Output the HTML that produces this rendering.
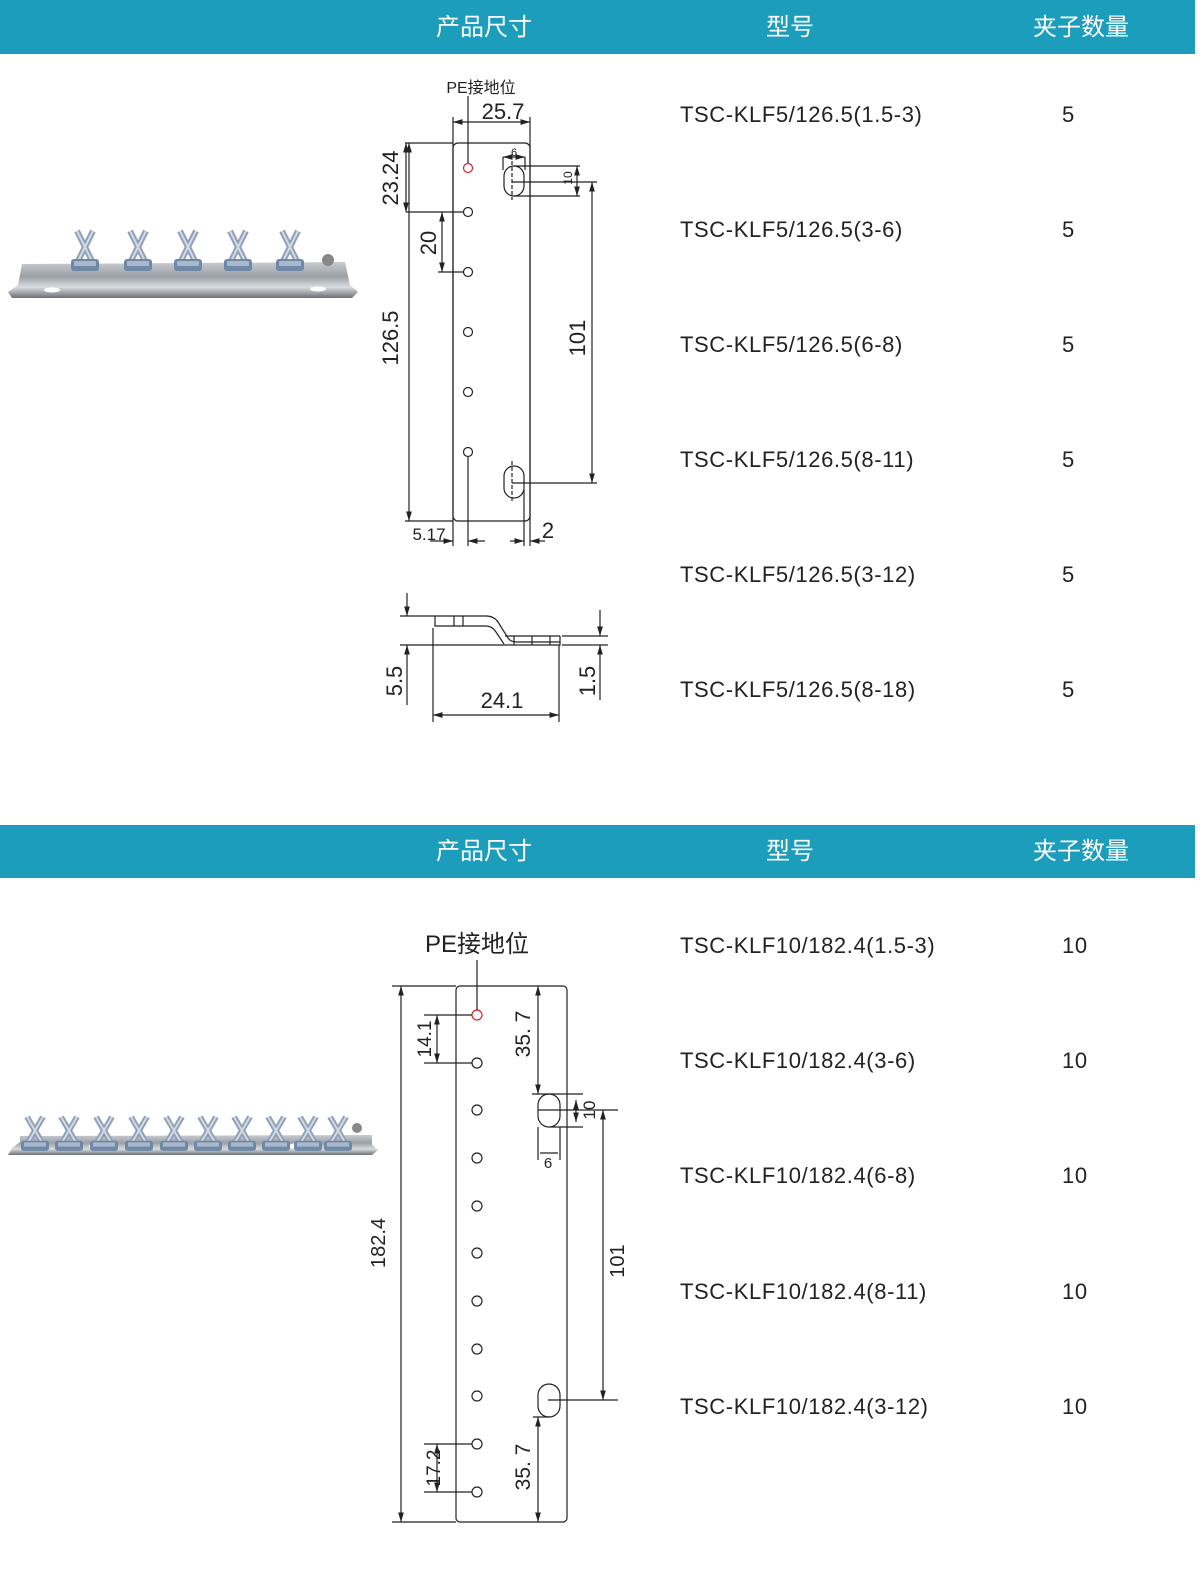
<!DOCTYPE html>
<html><head><meta charset="utf-8"><style>
body{margin:0;background:#fff;width:1200px;height:1572px;overflow:hidden;font-family:"Liberation Sans","Noto Sans CJK SC",sans-serif}
svg text{font-family:"Liberation Sans","Noto Sans CJK SC",sans-serif}
</style></head><body>
<svg width="1200" height="1572" viewBox="0 0 1200 1572" xmlns="http://www.w3.org/2000/svg">
<defs>
<marker id="a" viewBox="0 0 10 10" refX="10" refY="5" markerWidth="8" markerHeight="8" orient="auto-start-reverse"><path d="M0,2 L10,5 L0,8 z" fill="#222"/></marker>
<linearGradient id="m" x1="0" y1="0" x2="0" y2="1"><stop offset="0" stop-color="#c8ccd0"/><stop offset=".4" stop-color="#9aa0a6"/><stop offset=".7" stop-color="#d9dcdf"/><stop offset="1" stop-color="#6c7075"/></linearGradient>
<g id="clip"><path d="M-8,-34 L8,-2 M8,-34 L-8,-2" stroke="#8fa0b8" stroke-width="6" fill="none"/><path d="M-8,-34 L8,-2 M8,-34 L-8,-2" stroke="#d4dae3" stroke-width="2" fill="none"/><rect x="-14" y="-6" width="28" height="12" rx="3" fill="#6f88a6"/><rect x="-11" y="-4" width="22" height="5" fill="#a9b9cc"/></g>
</defs>
<rect x="0" y="0" width="1195" height="54" fill="#1c9dbb"/>
<rect x="0" y="825" width="1195" height="53" fill="#1c9dbb"/>
<g fill="#fff" font-size="24" text-anchor="middle">
<text x="484" y="35">产品尺寸</text><text x="790" y="35">型号</text><text x="1081" y="35">夹子数量</text>
<text x="484" y="859">产品尺寸</text><text x="790" y="859">型号</text><text x="1081" y="859">夹子数量</text>
</g>
<g fill="#222" font-size="22" letter-spacing="0.6">
<text x="680" y="122">TSC-KLF5/126.5(1.5-3)</text>
<text x="680" y="237">TSC-KLF5/126.5(3-6)</text>
<text x="680" y="352">TSC-KLF5/126.5(6-8)</text>
<text x="680" y="467">TSC-KLF5/126.5(8-11)</text>
<text x="680" y="582">TSC-KLF5/126.5(3-12)</text>
<text x="680" y="697">TSC-KLF5/126.5(8-18)</text>
<text x="1062" y="122">5</text><text x="1062" y="237">5</text><text x="1062" y="352">5</text><text x="1062" y="467">5</text><text x="1062" y="582">5</text><text x="1062" y="697">5</text>
<text x="680" y="953">TSC-KLF10/182.4(1.5-3)</text>
<text x="680" y="1068">TSC-KLF10/182.4(3-6)</text>
<text x="680" y="1183">TSC-KLF10/182.4(6-8)</text>
<text x="680" y="1299">TSC-KLF10/182.4(8-11)</text>
<text x="680" y="1414">TSC-KLF10/182.4(3-12)</text>
<text x="1062" y="953">10</text><text x="1062" y="1068">10</text><text x="1062" y="1183">10</text><text x="1062" y="1299">10</text><text x="1062" y="1414">10</text>
</g>
<path d="M22,264 L345,262 L350,285 L358,292 L352,298 L12,298 L8,292 L18,285 Z" fill="url(#m)"/>
<ellipse cx="52" cy="290" rx="8" ry="2.5" fill="#fff"/><ellipse cx="318" cy="289" rx="8" ry="2.5" fill="#fff"/>
<use href="#clip" x="85" y="265"/><use href="#clip" x="138" y="265"/><use href="#clip" x="188" y="265"/><use href="#clip" x="238" y="265"/><use href="#clip" x="290" y="265"/>
<circle cx="328" cy="260" r="6" fill="#888"/>
<path d="M20,1136 L372,1135 L372,1145 L378,1150 L372,1155 L8,1155 L12,1148 L20,1142 Z" fill="url(#m)"/>
<ellipse cx="98" cy="1146" rx="9" ry="3" fill="#fff"/><ellipse cx="298" cy="1146" rx="9" ry="3" fill="#fff"/>
<g transform="scale(1 0.85)">
<use href="#clip" x="35" y="1348"/><use href="#clip" x="69" y="1348"/><use href="#clip" x="104" y="1348"/><use href="#clip" x="139" y="1348"/><use href="#clip" x="174" y="1348"/><use href="#clip" x="208" y="1348"/><use href="#clip" x="242" y="1348"/><use href="#clip" x="276" y="1348"/><use href="#clip" x="308" y="1348"/><use href="#clip" x="338" y="1348"/>
</g>
<circle cx="357" cy="1128" r="5" fill="#888"/>

<g stroke="#222" stroke-width="1.2" fill="none">
<rect x="453" y="143" width="77" height="378" rx="5"/>
<circle cx="468" cy="168" r="4.5" stroke="#e02020"/>
<circle cx="468" cy="212" r="4.5"/><circle cx="468" cy="272" r="4.5"/><circle cx="468" cy="332" r="4.5"/><circle cx="468" cy="392" r="4.5"/><circle cx="468" cy="452" r="4.5"/>
<rect x="504" y="166" width="20" height="30" rx="10"/>
<rect x="504" y="466" width="20" height="32" rx="10"/>
<line x1="468" y1="96" x2="468" y2="163"/>
<line x1="468" y1="457" x2="468" y2="546"/>
<line x1="453" y1="117" x2="453" y2="546"/><line x1="530" y1="117" x2="530" y2="546"/>
<line x1="453" y1="122" x2="530" y2="122" marker-start="url(#a)" marker-end="url(#a)"/>
<line x1="405" y1="143" x2="453" y2="143"/><line x1="406" y1="212" x2="464" y2="212"/>
<line x1="409" y1="143" x2="409" y2="521" marker-start="url(#a)" marker-end="url(#a)"/>
<line x1="406" y1="143" x2="406" y2="212" marker-start="url(#a)" marker-end="url(#a)"/>
<line x1="438" y1="272" x2="464" y2="272"/>
<line x1="442" y1="212" x2="442" y2="272" marker-start="url(#a)" marker-end="url(#a)"/>
<line x1="405" y1="521" x2="453" y2="521"/>
<line x1="512" y1="161" x2="512" y2="200" stroke-dasharray="4 2"/><line x1="512" y1="461" x2="512" y2="503" stroke-dasharray="4 2"/>
<line x1="503" y1="157" x2="503" y2="170"/><line x1="525" y1="157" x2="525" y2="170"/>
<line x1="503" y1="157" x2="525" y2="157" marker-start="url(#a)" marker-end="url(#a)"/>
<line x1="514" y1="166" x2="580" y2="166"/><line x1="514" y1="196" x2="580" y2="196"/>
<line x1="577" y1="166" x2="577" y2="196" marker-start="url(#a)" marker-end="url(#a)"/>
<line x1="512" y1="182" x2="597" y2="182"/><line x1="512" y1="483" x2="597" y2="483"/>
<line x1="592" y1="182" x2="592" y2="483" marker-start="url(#a)" marker-end="url(#a)"/>
<line x1="430" y1="541" x2="453" y2="541" marker-end="url(#a)"/><line x1="485" y1="541" x2="468" y2="541" marker-end="url(#a)"/>
<line x1="510" y1="541" x2="524" y2="541" marker-end="url(#a)"/><line x1="545" y1="541" x2="530" y2="541" marker-end="url(#a)"/>
<line x1="524" y1="490" x2="524" y2="546"/>
</g>
<g fill="#222">
<text x="481" y="93" font-size="16" text-anchor="middle">PE接地位</text>
<text x="503" y="119" font-size="22" text-anchor="middle">25.7</text>
<text x="514" y="156" font-size="11" text-anchor="middle">6</text>
<text x="398" y="178" font-size="22" text-anchor="middle" transform="rotate(-90 398 178)">23.24</text>
<text x="436" y="243" font-size="22" text-anchor="middle" transform="rotate(-90 436 243)">20</text>
<text x="398" y="338" font-size="22" text-anchor="middle" transform="rotate(-90 398 338)">126.5</text>
<text x="585" y="338" font-size="22" text-anchor="middle" transform="rotate(-90 585 338)">101</text>
<text x="572" y="178" font-size="12" text-anchor="middle" transform="rotate(-90 572 178)">10</text>
<text x="429" y="540" font-size="17" text-anchor="middle">5.17</text>
<text x="548" y="538" font-size="22" text-anchor="middle">2</text>
</g>
<g stroke="#222" stroke-width="1.2" fill="none">
<path d="M400,616 L486,616 Q494,616 498,622 L508,638 Q511,642 516,642 L560,642"/>
<path d="M435,616 L435,626 L486,626 Q492,626 496,632 L504,644"/>
<path d="M400,645 L560,645 L560,636"/>
<path d="M505,636 L560,636"/>
<line x1="454" y1="616" x2="454" y2="626"/><line x1="463" y1="616" x2="463" y2="626"/>
<line x1="514" y1="636" x2="514" y2="645"/><line x1="532" y1="636" x2="532" y2="645"/><line x1="550" y1="636" x2="550" y2="645"/>
<line x1="562" y1="636" x2="608" y2="636"/><line x1="562" y1="645" x2="608" y2="645"/>
<line x1="407" y1="593" x2="407" y2="616" marker-end="url(#a)"/><line x1="407" y1="705" x2="407" y2="645" marker-end="url(#a)"/>
<line x1="600" y1="610" x2="600" y2="636" marker-end="url(#a)"/><line x1="600" y1="700" x2="600" y2="645" marker-end="url(#a)"/>
<line x1="433" y1="628" x2="433" y2="722"/><line x1="559" y1="645" x2="559" y2="722"/>
<line x1="433" y1="715" x2="559" y2="715" marker-start="url(#a)" marker-end="url(#a)"/>
</g>
<g fill="#222" font-size="22" text-anchor="middle">
<text x="502" y="708">24.1</text>
<text x="402" y="681" transform="rotate(-90 402 681)">5.5</text>
<text x="595" y="681" transform="rotate(-90 595 681)">1.5</text>
</g>

<g stroke="#222" stroke-width="1.2" fill="none">
<rect x="456" y="986" width="111" height="536" rx="4"/>
<circle cx="477" cy="1015" r="5" stroke="#e02020"/>
<circle cx="477" cy="1063" r="5"/><circle cx="477" cy="1110" r="5"/><circle cx="477" cy="1158" r="5"/><circle cx="477" cy="1206" r="5"/><circle cx="477" cy="1253" r="5"/><circle cx="477" cy="1301" r="5"/><circle cx="477" cy="1349" r="5"/><circle cx="477" cy="1396" r="5"/><circle cx="477" cy="1444" r="5"/><circle cx="477" cy="1492" r="5"/>
<rect x="538" y="1094" width="22" height="33" rx="11"/>
<rect x="538" y="1384" width="22" height="33" rx="11"/>
<line x1="477" y1="960" x2="477" y2="1010"/>
<line x1="392" y1="986" x2="456" y2="986"/><line x1="392" y1="1522" x2="456" y2="1522"/>
<line x1="401" y1="986" x2="401" y2="1522" marker-start="url(#a)" marker-end="url(#a)"/>
<line x1="424" y1="1015" x2="472" y2="1015"/><line x1="424" y1="1063" x2="472" y2="1063"/>
<line x1="437" y1="1015" x2="437" y2="1063" marker-start="url(#a)" marker-end="url(#a)"/>
<line x1="424" y1="1444" x2="472" y2="1444"/><line x1="424" y1="1492" x2="472" y2="1492"/>
<line x1="437" y1="1444" x2="437" y2="1492" marker-start="url(#a)" marker-end="url(#a)"/>
<line x1="538" y1="986" x2="538" y2="1094" marker-start="url(#a)" marker-end="url(#a)"/>
<line x1="532" y1="1094" x2="583" y2="1094"/><line x1="550" y1="1127" x2="583" y2="1127"/>
<line x1="576" y1="1100" x2="576" y2="1122" marker-start="url(#a)" marker-end="url(#a)"/>
<line x1="538" y1="1110" x2="618" y2="1110"/><line x1="548" y1="1400" x2="618" y2="1400"/>
<line x1="603" y1="1110" x2="603" y2="1400" marker-start="url(#a)" marker-end="url(#a)"/>
<line x1="538" y1="1127" x2="538" y2="1160"/><line x1="560" y1="1127" x2="560" y2="1160"/>
<line x1="540" y1="1153" x2="558" y2="1153"/>
<line x1="533" y1="1417" x2="550" y2="1417"/>
<line x1="538" y1="1417" x2="538" y2="1522" marker-start="url(#a)" marker-end="url(#a)"/>
</g>
<g fill="#222" text-anchor="middle">
<text x="477" y="952" font-size="24">PE接地位</text>
<text x="385" y="1243" font-size="20" transform="rotate(-90 385 1243)">182.4</text>
<text x="431" y="1039" font-size="19" transform="rotate(-90 431 1039)">14.1</text>
<text x="440" y="1468" font-size="19" transform="rotate(-90 440 1468)">17.2</text>
<text x="530" y="1034" font-size="21" transform="rotate(-90 530 1034)">35. 7</text>
<text x="530" y="1467" font-size="21" transform="rotate(-90 530 1467)">35. 7</text>
<text x="624" y="1261" font-size="20" transform="rotate(-90 624 1261)">101</text>
<text x="595" y="1110" font-size="17" transform="rotate(-90 595 1110)">10</text>
<text x="548" y="1168" font-size="15">6</text>
</g>
</svg>
</body></html>
